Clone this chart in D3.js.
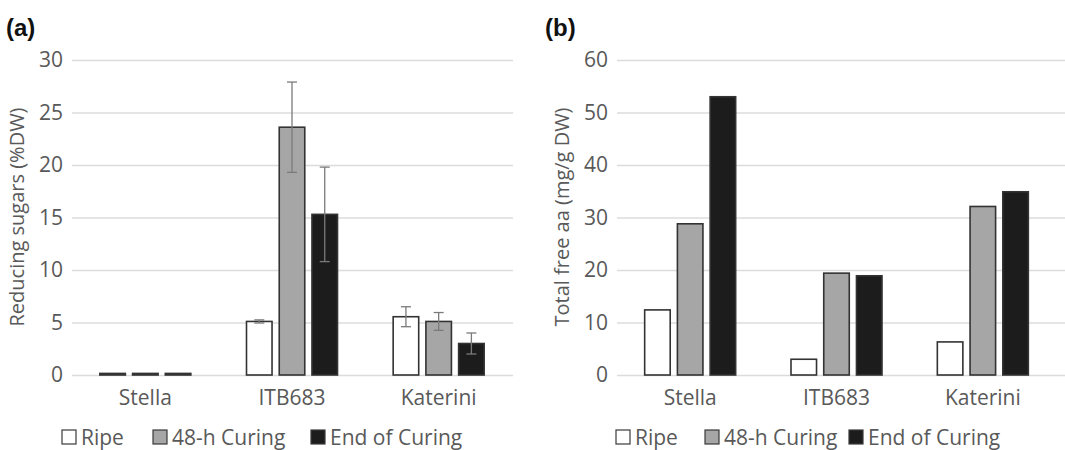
<!DOCTYPE html>
<html>
<head>
<meta charset="utf-8">
<script src="https://cdn.jsdelivr.net/npm/d3@7"></script>
<style>
  body { margin: 0; background: #fff; }
  text { font-family: "Open Sans", sans-serif; }
</style>
</head>
<body>
<div id="chart"></div>
<script>
// cultivars and curing stages
var cultivars = ["Stella", "ITB683", "Katerini"];
var stages = ["Ripe", "48-h Curing", "End of Curing"];
var stage_fill = ["#ffffff", "#a6a6a6", "#1c1c1c"];

// (a) reducing sugars, %DW, with error
var sugars = [
    [0.15, 5.1, 5.55],    // Ripe
    [0.15, 23.6, 5.1],    // 48-h
    [0.15, 15.3, 3.0]     // End
];
var sugars_err = [
    [0, 0.15, 0.95],
    [0, 4.3, 0.85],
    [0, 4.5, 1.0]
];
var sugars_ticks = [0, 5, 10, 15, 20, 25, 30];

// (b) total free aa, mg/g DW
var aminos = [
    [12.4, 3.0, 6.3],
    [28.8, 19.4, 32.1],
    [53.0, 18.9, 34.9]
];
var aminos_ticks = [0, 10, 20, 30, 40, 50, 60];

var svg = d3.select("#chart").append("svg")
    .attr("width", 1065)
    .attr("height", 450);

function draw_panel(opt) {
    var g = svg.append("g");

    var y = d3.scaleLinear().domain([0, d3.max(opt.ticks)]).range([375, 60]);
    var x0 = d3.scaleBand().domain(cultivars).range([opt.left, opt.right]);
    var x1 = d3.scaleBand().domain(d3.range(3)).range([-45.5, 45.5]).paddingInner(0.22);

    // gridlines
    var yAxis = d3.axisLeft(y).tickValues(opt.ticks).tickSize(-(opt.gridRight - opt.left)).tickPadding(9);
    var ga = g.append("g").attr("transform", "translate(" + opt.left + ",0)").call(yAxis);
    ga.select(".domain").remove();
    ga.selectAll(".tick line").attr("stroke", "#dcdcdc").attr("stroke-width", 1.3);
    ga.selectAll(".tick text").attr("fill", "#595959").style("font-size", "21px");

    // bars
    stages.forEach(function(s, si) {
        g.selectAll(".bar" + si).data(cultivars).enter().append("rect")
            .attr("x", function(c) { return x0(c) + x0.bandwidth() / 2 + x1(si); })
            .attr("width", x1.bandwidth())
            .attr("y", function(c, ci) { return y(opt.values[si][ci]); })
            .attr("height", function(c, ci) { return y(0) - y(opt.values[si][ci]); })
            .attr("fill", stage_fill[si])
            .attr("stroke", "#333")
            .attr("stroke-width", 1.6);
    });

    // error bars
    if (opt.err) {
        stages.forEach(function(s, si) {
            cultivars.forEach(function(c, ci) {
                var e = opt.err[si][ci];
                if (!e) return;
                var v = opt.values[si][ci];
                var cx = x0(c) + x0.bandwidth() / 2 + x1(si) + x1.bandwidth() / 2;
                var eg = g.append("g").attr("stroke", "#7a7a7a").attr("stroke-width", 1.3);
                eg.append("line").attr("x1", cx).attr("x2", cx).attr("y1", y(v + e)).attr("y2", y(v - e));
                eg.append("line").attr("x1", cx - 5).attr("x2", cx + 5).attr("y1", y(v + e)).attr("y2", y(v + e));
                eg.append("line").attr("x1", cx - 5).attr("x2", cx + 5).attr("y1", y(v - e)).attr("y2", y(v - e));
            });
        });
    }

    // category labels
    var xAxis = d3.axisBottom(x0).tickSize(0).tickPadding(15);
    var gx = g.append("g").attr("transform", "translate(0,375)").call(xAxis);
    gx.select(".domain").remove();
    gx.selectAll(".tick text").attr("fill", "#595959").style("font-size", "21px");

    // axis title
    g.append("text")
        .attr("transform", "translate(" + opt.titleX + ",217) rotate(-90)")
        .attr("text-anchor", "middle")
        .attr("fill", "#595959")
        .style("font-size", "20px")
        .text(opt.title);

    // panel letter
    g.append("text")
        .attr("x", opt.letterX).attr("y", 36)
        .attr("fill", "#111")
        .style("font-family", "Arial, 'Liberation Sans', sans-serif")
        .style("font-weight", "bold")
        .style("font-size", "24px")
        .text(opt.letter);

    // legend
    var lg = g.append("g").selectAll("g").data(stages).enter().append("g")
        .attr("transform", function(d, i) { return "translate(" + opt.legendX[i] + ",437)"; });
    lg.append("rect")
        .attr("x", 0).attr("y", -7).attr("width", 14).attr("height", 14)
        .attr("fill", function(d, i) { return stage_fill[i]; })
        .attr("stroke", "#3a3a3a").attr("stroke-width", 1.2);
    lg.append("text")
        .attr("x", 19).attr("y", 8)
        .attr("fill", "#595959")
        .style("font-size", "21px")
        .text(function(d) { return d; });
}

draw_panel({
    left: 72, right: 512, gridRight: 513,
    values: sugars, err: sugars_err, ticks: sugars_ticks,
    title: "Reducing sugars (%DW)", titleX: 24,
    letter: "(a)", letterX: 6,
    legendX: [62, 153, 311]
});

draw_panel({
    left: 617, right: 1056, gridRight: 1065,
    values: aminos, err: null, ticks: aminos_ticks,
    title: "Total free aa (mg/g DW)", titleX: 569,
    letter: "(b)", letterX: 545,
    legendX: [616, 705, 849]
});
</script>
</body>
</html>
